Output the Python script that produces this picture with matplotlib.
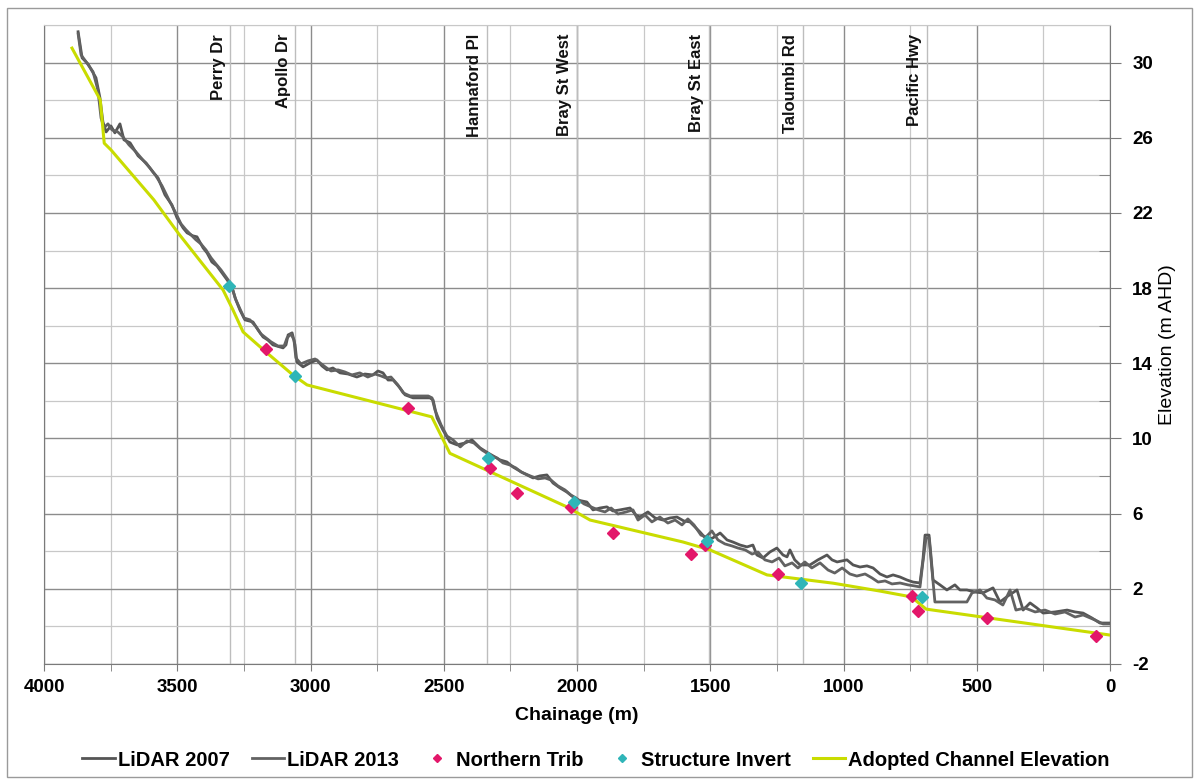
import matplotlib
matplotlib.use('Agg')
import matplotlib.pyplot as plt
from matplotlib.ticker import MultipleLocator, FixedLocator
from matplotlib.patches import Rectangle
from matplotlib.lines import Line2D

plt.rcParams['font.family'] = ['Liberation Sans', 'DejaVu Sans']
plt.rcParams['axes.unicode_minus'] = False

# ---------------- data ----------------
lidar2007_ch = [3872, 3857, 3835, 3805, 3790, 3779, 3767, 3749, 3734, 3715,
                3700, 3677, 3647, 3617, 3591, 3572, 3546, 3520, 3501, 3478,
                3463, 3441, 3426, 3403, 3388, 3370, 3351, 3332, 3313, 3295,
                3280, 3265, 3246, 3216, 3197, 3178, 3160, 3141, 3103, 3092,
                3084, 3069, 3058, 3051, 3028, 3002, 2976, 2957, 2938, 2916,
                2889, 2859, 2826, 2796, 2766, 2747, 2728, 2709, 2690, 2664,
                2645, 2615, 2589, 2552, 2540, 2525, 2503, 2477, 2450, 2420,
                2394, 2364, 2334, 2308, 2289, 2263, 2240, 2221, 2203, 2165,
                2139, 2113, 2090, 2064, 2038, 2015, 2000, 1963, 1940, 1914,
                1888, 1865, 1839, 1801, 1779, 1764, 1734, 1707, 1677, 1651,
                1625, 1599, 1576, 1554, 1539, 1512, 1490, 1463, 1437, 1415,
                1388, 1362, 1340, 1325, 1302, 1276, 1250, 1227, 1212, 1201,
                1183, 1163, 1126, 1096, 1062, 1043, 1024, 987, 964, 938,
                912, 889, 863, 837, 814, 788, 762, 739, 713, 702,
                694, 679, 672, 664, 638, 612, 582, 563, 537, 507,
                477, 439, 413, 383, 349, 326, 300, 274, 251, 206,
                161, 131, 101, 68, 38, 0]
lidar2007_el = [31.64, 30.25, 29.93, 29.19, 28.12, 26.85, 26.31, 26.63, 26.26, 26.74,
                25.89, 25.73, 25.04, 24.66, 24.18, 23.86, 22.96, 22.43, 21.74, 21.20,
                20.94, 20.78, 20.73, 20.14, 19.87, 19.39, 19.18, 18.81, 18.44, 18.06,
                17.37, 16.84, 16.31, 16.20, 15.78, 15.40, 15.24, 14.98, 14.82, 14.98,
                15.51, 15.62, 14.98, 14.07, 13.81, 14.02, 14.18, 13.86, 13.65, 13.75,
                13.49, 13.43, 13.27, 13.43, 13.38, 13.59, 13.49, 13.11, 13.11, 12.69,
                12.32, 12.16, 12.16, 12.16, 12.05, 11.09, 10.45, 9.81, 9.66, 9.76,
                9.92, 9.50, 9.23, 9.02, 8.86, 8.75, 8.48, 8.32, 8.17, 7.90,
                8.01, 8.06, 7.63, 7.37, 7.15, 6.89, 6.73, 6.62, 6.20, 6.30,
                6.36, 6.14, 6.20, 6.30, 5.93, 5.82, 6.09, 5.77, 5.66, 5.77,
                5.82, 5.61, 5.56, 5.24, 5.03, 4.60, 4.71, 4.97, 4.60, 4.49,
                4.33, 4.23, 4.33, 3.80, 3.64, 3.96, 4.17, 3.80, 3.70, 4.07,
                3.54, 3.27, 3.27, 3.54, 3.80, 3.54, 3.43, 3.54, 3.27, 3.16,
                3.22, 3.11, 2.79, 2.63, 2.74, 2.63, 2.47, 2.36, 2.31, 3.54,
                4.86, 4.86, 3.80, 2.47, 2.21, 1.94, 2.21, 1.94, 1.94, 1.83,
                1.78, 2.05, 1.30, 1.62, 1.94, 0.87, 1.25, 0.98, 0.71, 0.77,
                0.87, 0.77, 0.71, 0.45, 0.18, 0.18]

lidar2013_ch = [3872, 3861, 3842, 3816, 3798, 3786, 3775, 3760, 3745, 3723,
                3704, 3681, 3655, 3629, 3603, 3580, 3557, 3531, 3508, 3486,
                3467, 3448, 3430, 3411, 3392, 3373, 3355, 3336, 3317, 3298,
                3283, 3268, 3249, 3227, 3204, 3186, 3167, 3148, 3122, 3099,
                3088, 3073, 3062, 3055, 3036, 3009, 2983, 2964, 2945, 2923,
                2897, 2871, 2845, 2815, 2785, 2758, 2736, 2717, 2698, 2672,
                2652, 2626, 2596, 2558, 2544, 2533, 2510, 2488, 2465, 2438,
                2413, 2387, 2357, 2327, 2300, 2278, 2252, 2229, 2210, 2176,
                2146, 2120, 2098, 2071, 2045, 2023, 2004, 1974, 1947, 1921,
                1895, 1872, 1846, 1816, 1790, 1771, 1745, 1719, 1689, 1659,
                1632, 1606, 1584, 1561, 1535, 1516, 1494, 1471, 1445, 1418,
                1396, 1369, 1343, 1321, 1295, 1268, 1242, 1220, 1193, 1171,
                1145, 1119, 1088, 1058, 1033, 1005, 976, 950, 919, 893,
                870, 844, 818, 788, 758, 732, 713, 702, 690, 679,
                668, 657, 619, 582, 555, 537, 518, 488, 462, 432,
                402, 375, 353, 319, 281, 244, 206, 169, 131, 101,
                56, 26, 0]
lidar2013_el = [31.53, 30.41, 30.04, 29.51, 28.55, 27.06, 26.53, 26.74, 26.42, 26.31,
                26.05, 25.62, 25.25, 24.82, 24.40, 23.97, 23.44, 22.69, 22.06, 21.42,
                21.10, 20.83, 20.57, 20.35, 20.03, 19.61, 19.29, 18.97, 18.60, 18.22,
                17.48, 17.00, 16.41, 16.31, 15.94, 15.56, 15.35, 15.14, 14.92, 14.92,
                15.35, 15.56, 15.24, 14.29, 13.97, 14.13, 14.23, 14.02, 13.81, 13.59,
                13.65, 13.54, 13.38, 13.49, 13.27, 13.43, 13.33, 13.22, 13.27, 12.85,
                12.42, 12.26, 12.26, 12.26, 12.16, 11.52, 10.72, 10.13, 9.92, 9.55,
                9.87, 9.76, 9.39, 9.12, 8.96, 8.70, 8.59, 8.43, 8.22, 8.01,
                7.85, 7.90, 7.79, 7.47, 7.26, 6.99, 6.84, 6.52, 6.36, 6.20,
                6.09, 6.30, 5.98, 6.09, 6.20, 5.66, 5.93, 5.56, 5.82, 5.50,
                5.66, 5.40, 5.72, 5.40, 4.86, 4.76, 5.08, 4.60, 4.39, 4.28,
                4.17, 4.07, 3.85, 3.96, 3.54, 3.43, 3.64, 3.22, 3.38, 3.11,
                3.43, 3.11, 3.38, 3.00, 2.84, 3.11, 2.79, 2.68, 2.79, 2.58,
                2.36, 2.42, 2.26, 2.31, 2.21, 2.15, 2.10, 3.43, 4.71, 4.71,
                3.00, 1.30, 1.30, 1.30, 1.30, 1.30, 1.78, 1.94, 1.51, 1.41,
                1.14, 1.94, 0.87, 0.98, 0.77, 0.87, 0.66, 0.77, 0.50, 0.61,
                0.34, 0.13, 0.13]

adopted_ch = [3895, 3789, 3774, 3749, 3588, 3496, 3328, 3291, 3253, 3163,
              3066, 3013, 2545, 2477, 2326, 2038, 1951, 1602, 1501, 1287,
              1039, 863, 745, 690, 0]
adopted_el = [30.77, 28.02, 25.71, 25.36, 22.70, 20.92, 17.90, 16.84, 15.67, 14.55,
              13.38, 12.85, 11.15, 9.21, 8.23, 6.36, 5.66, 4.49, 4.07, 2.74,
              2.30, 1.88, 1.57, 0.92, -0.46]

trib_ch = [3166, 2634, 2326, 2225, 2023, 1865, 1572, 1520, 1246, 743, 720, 462, 53]
trib_el = [14.76, 11.62, 8.43, 7.10, 6.36, 4.97, 3.85, 4.33, 2.79, 1.62, 0.82, 0.45, -0.51]

struct_ch = [3306, 3058, 2334, 2011, 1512, 1159, 705]
struct_el = [18.12, 13.33, 8.96, 6.62, 4.55, 2.31, 1.56]

road_names = ['Perry Dr', 'Apollo Dr', 'Hannaford Pl', 'Bray St West',
              'Bray St East', 'Taloumbi Rd', 'Pacific Hwy']
road_ch = [3302, 3058, 2338, 2000, 1505, 1152, 687]

x_limits = (4000, 0)
y_limits = (-2, 32)
y_major = [-2, 2, 6, 10, 14, 18, 22, 26, 30]
y_minor = [0, 4, 8, 12, 16, 20, 24, 28, 32]

# ---------------- figure ----------------
W, H = 1200, 783
fig = plt.figure(figsize=(W / 100, H / 100), dpi=100)
fig.patch.set_facecolor('white')
fig.patches.append(Rectangle((7 / W, 6 / H), (1192 - 7) / W, (776 - 7) / H,
                             transform=fig.transFigure, fill=False,
                             ec='#9a9a9a', lw=1.0))

ax = fig.add_axes([44 / W, 1 - 664 / H, (1110 - 44) / W, (664 - 25) / H])
ax.set_xlim(*x_limits)
ax.set_ylim(*y_limits)

ax.xaxis.set_major_locator(MultipleLocator(500))
ax.xaxis.set_minor_locator(MultipleLocator(250))
ax.yaxis.set_major_locator(FixedLocator(y_major))
ax.yaxis.set_minor_locator(FixedLocator(y_minor))

ax.grid(which='major', color='#8c8c8c', lw=1.0, zorder=0)
ax.grid(which='minor', color='#c8c8c8', lw=0.9, zorder=0)
ax.set_axisbelow(True)

ax.yaxis.tick_right()
ax.yaxis.set_label_position('right')
for s in ['left', 'right', 'bottom']:
    ax.spines[s].set_color('#7a7a7a')
ax.spines['top'].set_color('#c8c8c8')

ax.tick_params(axis='x', which='both', direction='out', length=5,
               color='#7a7a7a', pad=6)
ax.tick_params(axis='y', which='major', direction='out', length=8,
               color='#7a7a7a', pad=8)
ax.tick_params(axis='y', which='minor', direction='in', length=8,
               color='#7a7a7a')
for lab in ax.get_xticklabels() + ax.get_yticklabels():
    lab.set_fontsize(13.5)
    lab.set_fontweight('bold')

# road crossing lines and labels
for name, c in zip(road_names, road_ch):
    ax.axvline(c, color='#bdbdbd', lw=1.0, zorder=1)
    ax.annotate(name, xy=(c, y_limits[1]), xycoords='data',
                xytext=(-12, -9), textcoords='offset pixels',
                rotation=90, ha='center', va='top',
                fontsize=12, fontweight='bold', color='#111111')

# series
ax.plot(lidar2007_ch, lidar2007_el, color='#555555', lw=2.0, zorder=3,
        label='LiDAR 2007')
ax.plot(lidar2013_ch, lidar2013_el, color='#626262', lw=2.0, zorder=3,
        label='LiDAR 2013')
ax.plot(trib_ch, trib_el, ls='none', marker='D', ms=6.5, color='#e3176a',
        mec='#e3176a', zorder=6, label='Northern Trib')
ax.plot(struct_ch, struct_el, ls='none', marker='D', ms=6.5, color='#2fb5b8',
        mec='#2fb5b8', zorder=6, label='Structure Invert')
ax.plot(adopted_ch, adopted_el, color='#c9dc00', lw=2.2, zorder=4,
        label='Adopted Channel Elevation')

ax.set_xlabel('Chainage (m)', fontsize=14, fontweight='bold')
ax.xaxis.set_label_coords(0.5, -(715 - 664) / (664 - 25))
ax.xaxis.label.set_va('center')
ax.set_ylabel('Elevation (m AHD)', fontsize=14, rotation=90)
ax.yaxis.set_label_coords((1167 - 44) / (1110 - 44), 0.5)
ax.yaxis.label.set_va('center')

handles = [
    Line2D([], [], color='#555555', lw=2.0),
    Line2D([], [], color='#626262', lw=2.0),
    Line2D([], [], ls='none', marker='D', ms=4, color='#e3176a'),
    Line2D([], [], ls='none', marker='D', ms=4, color='#2fb5b8'),
    Line2D([], [], color='#c9dc00', lw=2.2),
]
labels = ['LiDAR 2007', 'LiDAR 2013', 'Northern Trib', 'Structure Invert',
          'Adopted Channel Elevation']
fig.legend(handles, labels, loc='center', bbox_to_anchor=(596 / W, 1 - 760 / H),
           ncol=5, frameon=False, handlelength=1.6, handletextpad=0.15,
           columnspacing=1.1, prop={'size': 14.5, 'weight': 'bold'})

fig.savefig('out.png', dpi=100, facecolor='white')
